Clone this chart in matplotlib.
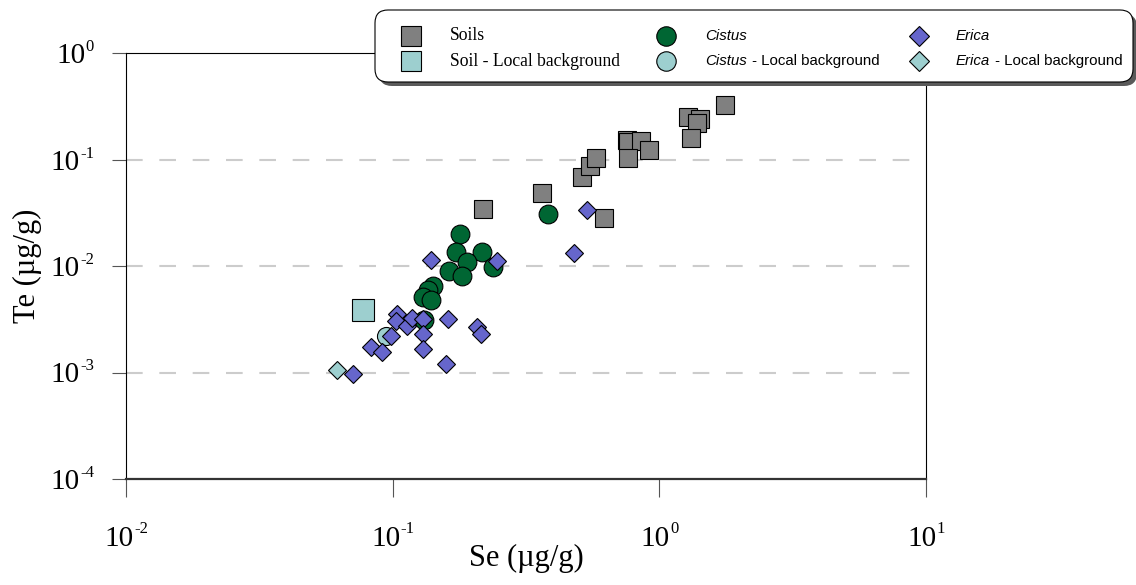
import matplotlib
matplotlib.use("Agg")
import matplotlib.pyplot as plt
from matplotlib.patches import FancyBboxPatch
from matplotlib.lines import Line2D
from matplotlib.transforms import IdentityTransform
from matplotlib.ticker import NullLocator

# ---- data: Se and Te concentrations (µg/g) ----
soil_se = [0.218, 0.363, 0.513, 0.550, 0.579, 0.620, 0.756, 0.763, 0.853,
           0.915, 0.763, 1.281, 1.420, 1.384, 1.314, 1.763]
soil_te = [0.0343, 0.0485, 0.0685, 0.0869, 0.1033, 0.0282, 0.1524, 0.146,
           0.1492, 0.1228, 0.1033, 0.2506, 0.240, 0.2202, 0.159, 0.3248]
soil_bg_se = [0.0774]
soil_bg_te = [0.00386]

cistus_se = [0.3825, 0.1789, 0.1728, 0.2163, 0.190, 0.1627, 0.182, 0.2378,
             0.1416, 0.1351, 0.1299, 0.1392, 0.1311]
cistus_te = [0.0308, 0.01998, 0.01353, 0.01353, 0.0109, 0.00898, 0.00814,
             0.00979, 0.00649, 0.00595, 0.00512, 0.0048, 0.00308]
cistus_bg_se = [0.0944]
cistus_bg_te = [0.0022]

erica_se = [0.0710, 0.0829, 0.0912, 0.0983, 0.1038, 0.1029, 0.1131, 0.1181,
            0.1294, 0.1294, 0.1294, 0.1613, 0.1585, 0.2071, 0.2144, 0.1392,
            0.2461, 0.4767, 0.5355]
erica_te = [0.000968, 0.001736, 0.001558, 0.002178, 0.00358, 0.00305,
            0.00273, 0.00325, 0.00315, 0.0023, 0.001662, 0.00315, 0.0012,
            0.002675, 0.0023, 0.01138, 0.01114, 0.01325, 0.03356]
erica_bg_se = [0.0618]
erica_bg_te = [0.001056]

x_ticks = [1e-2, 1e-1, 1e0, 1e1]
x_tick_exps = ["-2", "-1", "0", "1"]
y_ticks = [1e0, 1e-1, 1e-2, 1e-3, 1e-4]
y_tick_exps = ["0", "-1", "-2", "-3", "-4"]
y_grid = [1e-1, 1e-2, 1e-3]

x_label = "Se (µg/g)"
y_label = "Te (µg/g)"

# ---- style ----
GREY = "#808080"
TEAL = "#9dcfcf"
GREEN = "#006633"
PURPLE = "#6666cc"
SERIF = "Liberation Serif"
SANS = "Liberation Sans"

W, H = 1136, 585
fig = plt.figure(figsize=(W / 100, H / 100), dpi=100)
fig.patch.set_facecolor("white")
ax = fig.add_axes([126 / W, 1 - 479 / H, 800 / W, 426 / H])
ax.set_xscale("log")
ax.set_yscale("log")
ax.set_xlim(x_ticks[0], x_ticks[-1])
ax.set_ylim(y_ticks[-1], y_ticks[0])
ax.set_xticks(x_ticks)
ax.set_yticks(y_ticks)
ax.set_xticklabels([""] * len(x_ticks))
ax.set_yticklabels([""] * len(y_ticks))
ax.xaxis.set_minor_locator(NullLocator())
ax.yaxis.set_minor_locator(NullLocator())
ax.tick_params(axis="y", direction="out", length=10, width=0.8, color="#555555")
ax.tick_params(axis="x", direction="out", length=13, width=0.8, color="#555555")
for side in ["left", "top", "right"]:
    ax.spines[side].set_linewidth(0.8)
    ax.spines[side].set_color("black")
ax.spines["bottom"].set_linewidth(1.6)
ax.spines["bottom"].set_color("#333333")

for g in y_grid:
    ax.axhline(g, color="#cccccc", linewidth=1.5, linestyle=(0, (8, 8)), zorder=0.5)

mk = dict(linestyle="none", markeredgecolor="black", markeredgewidth=0.8)
ax.plot(soil_se, soil_te, marker="s", markersize=13, markerfacecolor=GREY, zorder=3, **mk)
ax.plot(soil_bg_se, soil_bg_te, marker="s", markersize=15.5, markerfacecolor=TEAL, zorder=3, **mk)
ax.plot(cistus_bg_se, cistus_bg_te, marker="o", markersize=13, markerfacecolor=TEAL, zorder=3, **mk)
ax.plot(cistus_se, cistus_te, marker="o", markersize=13.5, markerfacecolor=GREEN, zorder=3, **mk)
ax.plot(erica_bg_se, erica_bg_te, marker="D", markersize=9.2, markerfacecolor=TEAL, zorder=3, **mk)
ax.plot(erica_se, erica_te, marker="D", markersize=9.2, markerfacecolor=PURPLE, zorder=3, **mk)

# axis titles
fig.text(27 / W, 1 - 266 / H, y_label, rotation=90, ha="center", va="center",
         fontsize=22, family=SERIF)
fig.text(526 / W, 1 - 558 / H, x_label, ha="center", va="center",
         fontsize=22, family=SERIF)

# ---- power-of-ten tick labels with hyphen exponents ----
fig.canvas.draw()
renderer = fig.canvas.get_renderer()
MAIN_FS, SUP_FS = 21, 12

for v, e in zip(y_ticks, y_tick_exps):
    ty = ax.transData.transform((x_ticks[0], v))[1]
    sup = fig.text(94 / W, (ty + 2) / H, e, ha="right", va="baseline",
                   fontsize=SUP_FS, family=SERIF)
    ws = sup.get_window_extent(renderer).width
    fig.text((94 - ws - 0.5) / W, (ty - 10) / H, "10", ha="right", va="baseline",
             fontsize=MAIN_FS, family=SERIF)

for v, e in zip(x_ticks, x_tick_exps):
    tx = ax.transData.transform((v, y_ticks[-1]))[0]
    main = fig.text(0, (H - 546) / H, "10", ha="left", va="baseline",
                    fontsize=MAIN_FS, family=SERIF)
    sup = fig.text(0, (H - 533) / H, e, ha="left", va="baseline",
                   fontsize=SUP_FS, family=SERIF)
    wm = main.get_window_extent(renderer).width
    ws = sup.get_window_extent(renderer).width
    left = tx - (wm + ws) / 2
    main.set_x(left / W)
    sup.set_x((left + wm + 0.5) / W)

# ---- legend panel ----
def fy(y):
    return H - y

bx0, by0, bx1, by1 = 375, 10, 1133, 82
shadow = FancyBboxPatch((bx0 + 4, fy(by1) - 4), bx1 - bx0, by1 - by0,
                        boxstyle="round,pad=0,rounding_size=13",
                        transform=IdentityTransform(), facecolor="#5a5a5a",
                        edgecolor="none", zorder=5)
box = FancyBboxPatch((bx0, fy(by1)), bx1 - bx0, by1 - by0,
                     boxstyle="round,pad=0,rounding_size=13",
                     transform=IdentityTransform(), facecolor="white",
                     edgecolor="black", linewidth=0.8, zorder=6)
fig.add_artist(shadow)
fig.add_artist(box)

rows = [36, 61]
legend_entries = [
    (411, rows[0], "s", 14, GREY),
    (411, rows[1], "s", 14, TEAL),
    (666, rows[0], "o", 14, GREEN),
    (666, rows[1], "o", 14, TEAL),
    (919, rows[0], "D", 9.8, PURPLE),
    (919, rows[1], "D", 9.8, TEAL),
]
for x, y, m, s, c in legend_entries:
    fig.add_artist(Line2D([x], [fy(y)], marker=m, markersize=s, markerfacecolor=c,
                          markeredgecolor="black", markeredgewidth=0.8,
                          linestyle="none", transform=IdentityTransform(), zorder=7))

fig.text(450 / W, fy(rows[0]) / H, "Soils", ha="left", va="center",
         fontsize=12.7, family=SERIF, zorder=8)
fig.text(450 / W, fy(rows[1]) / H, "Soil - Local background", ha="left", va="center",
         fontsize=12.7, family=SERIF, zorder=8)

for x, name in [(705, "Cistus"), (956, "Erica")]:
    fig.text(x / W, fy(rows[0]) / H, name, ha="left", va="center", fontsize=10.8,
             family=SANS, style="italic", zorder=8)
    it = fig.text(x / W, fy(rows[1]) / H, name, ha="left", va="center", fontsize=10.8,
                  family=SANS, style="italic", zorder=8)
    wi = it.get_window_extent(renderer).width
    fig.text((x + wi + 1) / W, fy(rows[1]) / H, " - Local background", ha="left",
             va="center", fontsize=10.8, family=SANS, zorder=8)

fig.savefig("out.png", dpi=100)
